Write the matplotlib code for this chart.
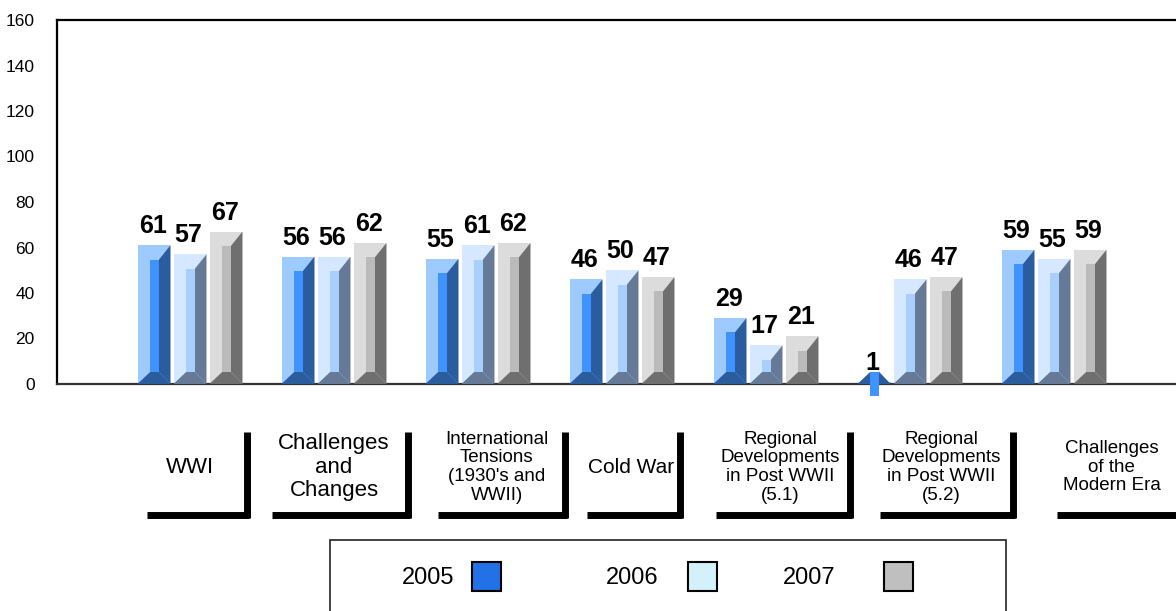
import matplotlib.pyplot as plt
from matplotlib.patches import Polygon, Rectangle

plt.rcParams['font.family'] = ['Liberation Sans', 'DejaVu Sans']

# data
categories = ['WWI', 'Challenges\nand\nChanges', 'International\nTensions\n(1930\'s and\nWWII)',
              'Cold War', 'Regional\nDevelopments\nin Post WWII\n(5.1)',
              'Regional\nDevelopments\nin Post WWII\n(5.2)', 'Challenges\nof the\nModern Era']
years = ['2005', '2006', '2007']
v2005 = [61, 56, 55, 46, 29, 1, 59]
v2006 = [57, 56, 61, 50, 17, 46, 55]
v2007 = [67, 62, 62, 47, 21, 47, 59]
series = [v2005, v2006, v2007]

# bevel colours: (light face, inner, dark side)
bar_colors = [('#9ecbff', '#3f93fd', '#2a5c9e'),
              ('#d5e8ff', '#a9cfff', '#667a98'),
              ('#dcdcdc', '#bababa', '#6f6f6f')]
legend_colors = ['#2371e6', '#d3f1fb', '#bfbfbf']
label_sizes = [16, 16, 13.5, 15, 13.5, 13.5, 13.5]
# bracket extents (left, right) relative to group centre, in category units
brackets = [(-0.30, 0.41), (-0.43, 0.53), (-0.28, 0.62), (-0.24, 0.42),
            (-0.35, 0.60), (-0.21, 0.73), (0.02, 0.90)]
text_dx = [0.0, 0.0, 0.13, 0.065, 0.10, 0.22, 0.40]

W, H = 1176, 611
fig = plt.figure(figsize=(W / 100, H / 100), dpi=100)
ax = fig.add_axes([57 / W, 1 - 384 / H, (1215 - 57) / W, 364 / H])

bw = 0.229
step = 0.25
bx = 0.08   # bevel width in x (data)
byt = 6.3   # top bevel in y units
byb = 5.3   # bottom bevel

for j, vals in enumerate(series):
    light, mid, dark = bar_colors[j]
    for i, v in enumerate(vals):
        xc = i + (j - 1) * step
        x0, x1 = xc - bw / 2, xc + bw / 2
        y0, y1 = 0, v
        xi0, xi1 = x0 + bx * 1.1, x1 - bx
        yi0, yi1 = y0 + byb, y1 - byt
        ax.add_patch(Rectangle((x0, y0), bw, v, facecolor=light, edgecolor='none', zorder=2))
        ax.add_patch(Polygon([(x1, y1), (x1, y0), (xi1, yi0), (xi1, yi1)],
                             closed=True, facecolor=dark, edgecolor='none', zorder=3))
        ax.add_patch(Polygon([(x0, y0), (x1, y0), (xi1, yi0), (xi0, yi0)],
                             closed=True, facecolor=dark, edgecolor='none', zorder=3))
        ax.add_patch(Polygon([(xi0, yi0), (xi1, yi0), (xi1, yi1), (xi0, yi1)],
                             closed=True, facecolor=mid, edgecolor='none', zorder=3.5,
                             clip_on=False))
        ax.annotate(str(v), (xc, v), xytext=(-1, 5), textcoords='offset points',
                    ha='center', va='bottom', fontsize=18, fontweight='bold', zorder=4)

ax.set_xlim(-133 / 144, (1215 - 190) / 144)
ax.set_ylim(0, 160)
ax.set_yticks(range(0, 161, 20))
ax.tick_params(axis='y', length=0, pad=16, labelsize=12.5)
ax.set_xticks([])
ax.spines['bottom'].set_color('#333333')
for s in ax.spines.values():
    s.set_linewidth(1.6)

# category labels with L brackets
for i, lab in enumerate(categories):
    xl, xr = brackets[i]
    ax.text(i + text_dx[i], -36.5, lab, ha='center', va='center', fontsize=label_sizes[i],
            linespacing=1.13, clip_on=False, zorder=5)
    ax.plot([i + xl, i + xr], [-57.5, -57.5], color='black', lw=5, solid_capstyle='butt',
            clip_on=False)
    ax.plot([i + xr - 0.017, i + xr - 0.017], [-59, -21], color='black', lw=5,
            solid_capstyle='butt', clip_on=False)

# legend box
fig.patches.append(Rectangle((330 / W, 1 - 640 / H), 676 / W, 100 / H, transform=fig.transFigure,
                             facecolor='white', edgecolor='#222222', lw=1.2))
text_x = [428, 632, 809]
sq_x = [472, 688, 884]
for k, yr in enumerate(years):
    fig.text(text_x[k] / W, 1 - 578 / H, yr, ha='center', va='center', fontsize=17)
    fig.patches.append(Rectangle((sq_x[k] / W, 1 - 591 / H), 29 / W, 29 / H,
                                 transform=fig.transFigure, facecolor=legend_colors[k],
                                 edgecolor='black', lw=1.5))

fig.savefig('out.png', dpi=100)
